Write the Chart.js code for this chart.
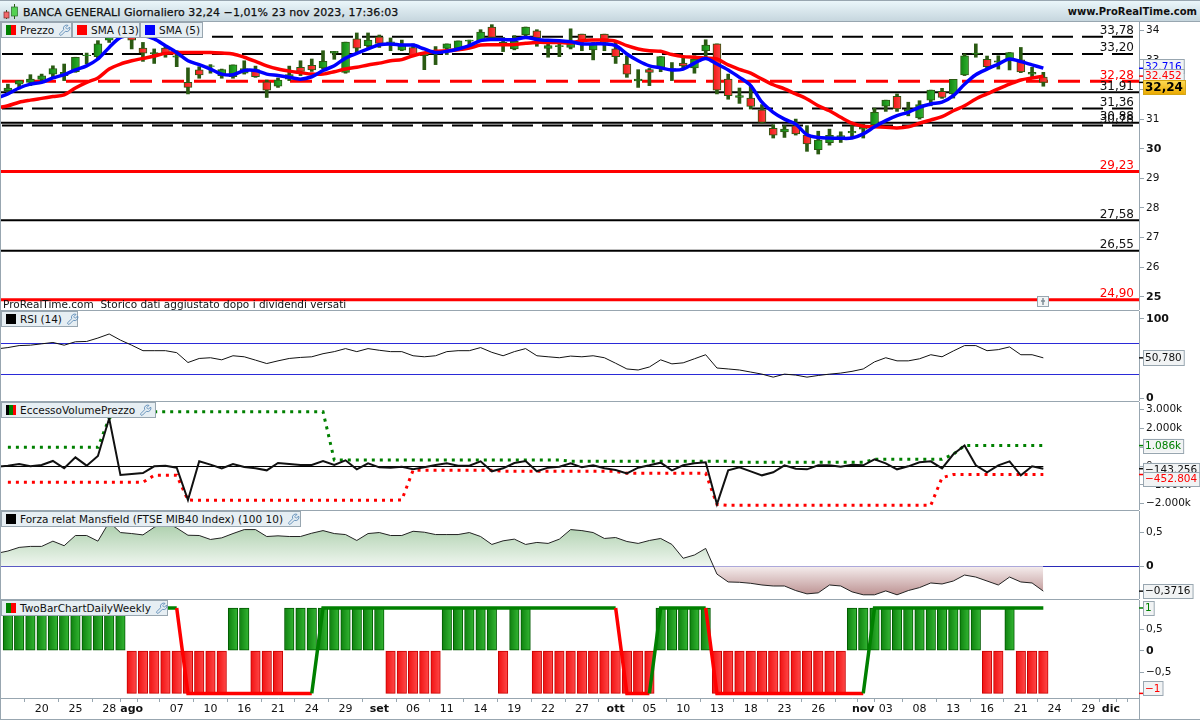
<!DOCTYPE html>
<html>
<head>
<meta charset="utf-8">
<title>BANCA GENERALI</title>
<script src="https://cdn.jsdelivr.net/npm/chart.js@4/dist/chart.umd.min.js"></script>
<style>
  html, body { margin: 0; padding: 0; background: #fff; }
  body { position: relative; width: 1200px; height: 720px; overflow: hidden; font: 11px "DejaVu Sans", sans-serif; color: #111; }
  canvas { position: absolute; left: -11px; }
  .top { position: absolute; left: 0; top: 0; width: 1200px; height: 21px; background: linear-gradient(#eaf6fa, #c6d6de); border-top: 1px solid #98a6b0; box-sizing: border-box; }
  .title { position: absolute; left: 23px; top: 5px; font-size: 11px; letter-spacing: 0.05px; white-space: nowrap; -webkit-text-stroke: 0.25px #111; }
  .site { position: absolute; right: 3px; top: 5px; font-size: 10px; font-weight: bold; white-space: nowrap; }
  .rule { position: absolute; background: #98a6b0; }
  .tab { position: absolute; height: 16px; box-sizing: border-box; background: #e6eef3; border: 1px solid #98a6b0; display: flex; align-items: center; padding-left: 4px; gap: 4px; white-space: nowrap; font-size: 10.5px; }
  .tab svg { flex: none; }
  .sw { display: inline-flex; width: 10px; height: 10px; flex: none; }
  .sw i { flex: 1; }
  .note { position: absolute; left: 3px; top: 298px; font-size: 10.5px; white-space: nowrap; }
  .mark { position: absolute; left: 1037px; top: 296px; width: 12px; height: 11px; box-sizing: border-box; border: 1px solid #98a6b0; background: #f2f4f5; }
</style>
</head>
<body>
<script>
// bar 0 is the one cut by the left edge, the rest are daily sessions up to 23 nov plus empty days
const BAR_COUNT = 102;
const bars = Array.from({ length: BAR_COUNT }, (_, i) => i - 1);

const tickBars = [0, 3, 6, 9, 11, 12, 15, 18, 21, 24, 27, 30, 33, 36, 39, 42, 45, 48, 51, 54, 57, 60, 63, 66, 69, 72, 75, 76, 78, 81, 84, 87, 90, 93, 96, 98, 99];
const tickTexts = ['', '20', '25', '28', 'ago', '', '07', '10', '16', '21', '24', '29', 'set', '06', '11', '14', '19', '22', '27', 'ott', '05', '10', '13', '18', '23', '26', '', 'nov', '03', '08', '13', '16', '21', '24', '29', 'dic', ''];
const monthTexts = ['ago', 'set', 'ott', 'nov', 'dic'];

const opens = [null, 31.96, 32.18, 32.24, 32.34, 32.52, 32.47, 32.60, 33.14, 33.11, 33.67, 33.99, 33.99, 33.40, 33.20, 33.40, 33.09, 32.24, 32.66, 32.78, 32.47, 32.43, 32.55, 32.67, 32.26, 32.11, 32.35, 32.75, 32.82, 32.73, 33.23, 32.58, 33.71, 33.48, 33.78, 33.58, 33.33, 33.42, 33.14, 33.25, 33.39, 33.40, 33.63, 33.65, 34.11, 33.59, 33.37, 33.85, 33.98, 33.39, 33.45, 33.42, 33.87, 33.34, 33.87, 33.37, 32.86, 32.29, 32.67, 32.75, 32.67, 32.89, 32.73, 33.31, 33.54, 32.35, 31.73, 31.71, 31.31, 30.69, 30.57, 30.78, 30.46, 29.97, 30.20, 30.38, 30.53, 30.66, 30.81, 31.44, 31.77, 31.26, 31.04, 31.64, 31.94, 31.85, 32.49, 33.20, 33.02, 32.92, 33.03, 33.00, 32.52, 32.42];
const closes = [null, 32.05, 32.30, 32.35, 32.46, 32.71, 32.58, 33.09, 33.16, 33.54, 33.99, 34.32, 33.67, 33.23, 33.25, 33.23, 33.14, 32.07, 32.49, 32.80, 32.67, 32.83, 32.71, 32.43, 31.98, 32.32, 32.50, 32.61, 32.66, 32.95, 33.29, 33.60, 33.40, 33.67, 33.56, 33.61, 33.48, 33.14, 33.25, 33.31, 33.54, 33.64, 33.67, 33.94, 33.76, 33.48, 33.63, 34.11, 33.74, 33.48, 33.48, 33.59, 33.63, 33.54, 33.59, 33.11, 32.52, 32.35, 32.58, 33.11, 32.71, 32.80, 33.03, 33.50, 31.98, 31.79, 31.79, 31.43, 30.89, 30.46, 30.66, 30.50, 30.16, 30.29, 30.45, 30.44, 30.59, 30.72, 31.23, 31.64, 31.34, 31.34, 31.49, 31.98, 31.73, 32.34, 33.14, 33.23, 32.77, 32.97, 33.25, 32.59, 32.58, 32.24];
const highs = [null, 32.18, 32.30, 32.50, 32.52, 32.80, 32.86, 33.09, 33.23, 33.65, 34.16, 34.40, 34.15, 33.59, 33.37, 33.48, 33.31, 32.73, 32.77, 32.84, 32.69, 32.83, 32.97, 32.79, 32.32, 32.39, 32.79, 32.97, 33.03, 33.31, 33.29, 33.60, 33.91, 33.91, 33.84, 33.74, 33.67, 33.54, 33.25, 33.45, 33.54, 33.64, 33.67, 34.02, 34.19, 33.76, 33.82, 34.11, 34.02, 33.67, 33.63, 34.05, 33.87, 33.59, 33.87, 33.65, 33.14, 32.67, 32.71, 33.11, 32.91, 33.06, 33.14, 33.68, 33.54, 32.52, 32.05, 32.13, 31.49, 30.81, 30.78, 31.00, 30.78, 30.59, 30.66, 30.57, 30.78, 30.83, 31.37, 31.64, 31.85, 31.57, 31.62, 31.98, 32.04, 32.34, 33.20, 33.54, 33.13, 33.14, 33.25, 33.42, 32.75, 32.58];
const lows = [null, 31.85, 32.02, 32.13, 32.24, 32.41, 32.30, 32.58, 32.86, 33.03, 33.59, 33.90, 33.37, 32.95, 32.88, 33.09, 32.77, 31.85, 32.38, 32.55, 32.38, 32.38, 32.52, 32.41, 31.73, 32.07, 32.30, 32.47, 32.61, 32.69, 33.02, 32.55, 33.25, 33.42, 33.42, 33.31, 33.31, 33.11, 32.67, 32.84, 33.18, 33.31, 33.42, 33.63, 33.65, 33.28, 33.34, 33.76, 33.46, 33.09, 33.11, 33.37, 33.31, 33.00, 33.31, 32.88, 32.41, 32.07, 32.13, 32.60, 32.30, 32.69, 32.55, 33.09, 31.85, 31.67, 31.53, 31.34, 30.86, 30.36, 30.38, 30.46, 29.91, 29.82, 30.12, 30.21, 30.36, 30.36, 30.72, 31.26, 31.26, 31.11, 31.00, 31.45, 31.70, 31.71, 32.47, 33.09, 32.69, 32.69, 32.66, 32.57, 32.43, 32.11];
const sma5 = [31.71, 31.85, 32.05, 32.18, 32.24, 32.39, 32.50, 32.66, 32.80, 33.03, 33.42, 33.76, 33.82, 33.82, 33.71, 33.48, 33.25, 32.97, 32.84, 32.69, 32.52, 32.50, 32.64, 32.64, 32.52, 32.47, 32.41, 32.35, 32.43, 32.64, 32.80, 33.06, 33.22, 33.37, 33.51, 33.54, 33.50, 33.50, 33.37, 33.25, 33.29, 33.37, 33.48, 33.65, 33.69, 33.69, 33.68, 33.76, 33.69, 33.66, 33.65, 33.61, 33.54, 33.54, 33.54, 33.48, 33.20, 32.97, 32.80, 32.73, 32.66, 32.69, 32.89, 33.05, 32.86, 32.66, 32.41, 32.13, 31.57, 31.23, 31.00, 30.83, 30.47, 30.38, 30.36, 30.35, 30.36, 30.50, 30.74, 30.95, 31.12, 31.23, 31.40, 31.51, 31.57, 31.79, 32.18, 32.50, 32.69, 32.86, 33.03, 32.94, 32.83, 32.72];
const sma13 = [31.38, 31.45, 31.57, 31.64, 31.70, 31.76, 31.82, 32.05, 32.24, 32.39, 32.69, 32.86, 32.97, 33.05, 33.13, 33.22, 33.25, 33.25, 33.25, 33.25, 33.23, 33.20, 33.09, 32.95, 32.80, 32.69, 32.62, 32.57, 32.52, 32.52, 32.60, 32.69, 32.75, 32.83, 32.89, 32.97, 33.01, 33.14, 33.23, 33.29, 33.31, 33.34, 33.40, 33.50, 33.51, 33.51, 33.52, 33.56, 33.59, 33.59, 33.59, 33.57, 33.65, 33.67, 33.67, 33.63, 33.48, 33.37, 33.31, 33.29, 33.18, 33.11, 33.09, 33.06, 33.03, 32.83, 32.68, 32.55, 32.35, 32.16, 32.02, 31.85, 31.68, 31.45, 31.28, 31.06, 30.86, 30.76, 30.74, 30.72, 30.70, 30.74, 30.86, 30.97, 31.08, 31.28, 31.45, 31.68, 31.85, 32.02, 32.18, 32.32, 32.39, 32.45];

const levelValues = [33.78, 33.20, 32.28, 31.91, 31.36, 30.88, 30.78, 29.23, 27.58, 26.55, 24.90];
const levelTexts = ['33,78', '33,20', '32,28', '31,91', '31,36', '30,88', '30,78', '29,23', '27,58', '26,55', '24,90'];
const priceTicks = [34, 33, 32, 31, 30, 29, 28, 27, 26, 25];

const rsi = [62.0, 63.7, 66.2, 66.7, 68.4, 70.1, 66.7, 71.0, 71.4, 75.7, 80.8, 73.1, 66.7, 59.8, 59.8, 59.8, 57.3, 44.9, 50.0, 50.9, 48.3, 53.4, 52.1, 47.9, 43.6, 47.0, 50.0, 51.3, 52.1, 56.0, 58.6, 62.4, 58.6, 62.4, 60.3, 58.6, 58.6, 53.4, 52.1, 53.4, 58.6, 59.8, 59.8, 63.7, 57.7, 53.4, 58.6, 62.4, 53.4, 52.1, 50.9, 53.0, 52.1, 53.4, 50.9, 44.0, 36.8, 35.5, 39.3, 48.3, 43.2, 44.5, 49.6, 54.7, 38.0, 36.8, 35.5, 32.9, 30.3, 26.5, 30.3, 29.1, 26.5, 28.6, 30.3, 31.6, 33.8, 36.8, 45.7, 50.9, 47.0, 47.0, 49.6, 54.7, 52.1, 59.4, 66.2, 66.2, 59.8, 61.1, 64.5, 54.7, 54.7, 50.78];
const rsiTicks = [100, 0];
const rsiLevels = [70, 30];

const evp = [-35, 18, 107, -17, 54, 267, -124, 461, 18, 533, 2536, -478, -425, -372, -17, 18, -88, -1808, 249, 72, -124, 107, -53, -124, -230, 160, 107, 54, 54, 267, 54, 302, -177, 143, -70, -88, -35, -177, -70, 54, 143, 18, 18, 249, -283, -124, 160, 267, -283, -88, -35, 143, -70, 36, -124, -212, -390, -88, 36, 178, -230, 36, 143, 196, -2038, -230, -70, -283, -496, -336, 36, -141, -177, 36, 36, -35, 72, 36, 355, 143, -177, -17, 196, 249, -124, 621, 1086, 36, -336, 36, 249, -496, -17, -143];
const evpUpper = [null, 993, 993, 993, 993, 993, 993, 993, 993, 993, 2536, 2891, 2891, 2891, 2891, 2891, 2891, 2891, 2891, 2891, 2891, 2891, 2891, 2891, 2891, 2891, 2891, 2891, 2891, 2891, 320, 320, 320, 320, 320, 320, 320, 320, 320, 320, 320, 320, 320, 320, 320, 320, 320, 320, 320, 320, 320, 249, 249, 249, 249, 249, 249, 249, 249, 249, 249, 249, 249, 249, 249, 249, 196, 196, 196, 196, 196, 196, 196, 196, 196, 196, 196, 196, 355, 355, 355, 355, 355, 355, 355, 621, 1086, 1086, 1086, 1086, 1086, 1086, 1086, 1086];
const evpLower = [null, -868, -868, -868, -868, -868, -868, -868, -868, -868, -868, -868, -868, -868, -496, -496, -496, -1808, -1826, -1826, -1826, -1826, -1826, -1826, -1826, -1826, -1826, -1826, -1826, -1826, -1826, -1826, -1826, -1826, -1826, -1826, -1808, -230, -230, -230, -230, -230, -230, -230, -230, -283, -283, -283, -283, -283, -283, -283, -283, -283, -283, -283, -390, -390, -390, -390, -390, -390, -390, -390, -2038, -2091, -2091, -2091, -2091, -2091, -2091, -2091, -2091, -2091, -2091, -2091, -2091, -2091, -2091, -2091, -2091, -2091, -2091, -2091, -620, -453, -453, -453, -453, -453, -453, -453, -453, -453];
const evpTicks = [3000, 2000, 1000, 0, -1000, -2000];
const evpTickTexts = ['3.000k', '2.000k', '1.000k', '0', '−1.000k', '−2.000k'];

const mansfield = [0.19, 0.225, 0.279, 0.294, 0.294, 0.372, 0.304, 0.456, 0.456, 0.372, 0.656, 0.500, 0.485, 0.465, 0.578, 0.656, 0.568, 0.460, 0.456, 0.397, 0.421, 0.485, 0.544, 0.544, 0.441, 0.451, 0.441, 0.441, 0.490, 0.529, 0.485, 0.470, 0.382, 0.485, 0.500, 0.456, 0.456, 0.519, 0.505, 0.470, 0.470, 0.470, 0.500, 0.441, 0.323, 0.377, 0.402, 0.323, 0.353, 0.338, 0.402, 0.544, 0.529, 0.500, 0.412, 0.426, 0.367, 0.338, 0.382, 0.412, 0.323, 0.117, 0.166, 0.264, -0.118, -0.235, -0.240, -0.255, -0.280, -0.295, -0.295, -0.363, -0.412, -0.397, -0.280, -0.295, -0.382, -0.426, -0.426, -0.368, -0.426, -0.363, -0.319, -0.250, -0.265, -0.221, -0.132, -0.162, -0.221, -0.280, -0.162, -0.235, -0.250, -0.3716];
const mansfieldTicks = [0.5, 0];

const twoBar = [null, 1, 1, 1, 1, 1, 1, 1, 1, 1, 1, 1, -1, -1, -1, -1, -1, -1, -1, -1, -1, 1, 1, -1, -1, -1, 1, 1, 1, 1, 1, 1, 1, 1, 1, -1, -1, -1, -1, -1, 1, 1, 1, 1, 1, -1, 1, 1, -1, -1, -1, -1, -1, -1, -1, -1, -1, -1, -1, 1, 1, 1, 1, 1, -1, -1, -1, -1, -1, -1, -1, -1, -1, -1, -1, -1, 1, 1, 1, 1, 1, 1, 1, 1, 1, 1, 1, 1, -1, -1, 1, -1, -1, -1];
const twoBarLine = [1, 1, 1, 1, 1, 1, 1, 1, 1, 1, 1, 1, 1, 1, 1, 1, 1, -1, -1, -1, -1, -1, -1, -1, -1, -1, -1, -1, -1, 1, 1, 1, 1, 1, 1, 1, 1, 1, 1, 1, 1, 1, 1, 1, 1, 1, 1, 1, 1, 1, 1, 1, 1, 1, 1, 1, -1, -1, -1, 1, 1, 1, 1, 1, -1, -1, -1, -1, -1, -1, -1, -1, -1, -1, -1, -1, -1, -1, 1, 1, 1, 1, 1, 1, 1, 1, 1, 1, 1, 1, 1, 1, 1, 1];
const twoBarTicks = [0.5, 0, -0.5];

const FONT = '"DejaVu Sans", sans-serif';
const AXIS = '#98a6b0';
const GREEN = '#008000';
const RED = '#ff0000';
const WICK = '#2a5a12';

const comma = v => String(v).replace('.', ',').replace('-', '−');

// horizontal levels, drawn under the marks
function levelLines(lines) {
  return {
    id: 'levelLines',
    beforeDatasetsDraw(chart) {
      const { ctx, chartArea, scales } = chart;
      lines.forEach(l => {
        let y = scales.y.getPixelForValue(l.value);
        if (l.width === 1) y = Math.round(y) + 0.5;   // keep hairlines crisp
        ctx.save();
        ctx.strokeStyle = l.color;
        ctx.lineWidth = l.width;
        ctx.setLineDash(l.dash || []);
        ctx.beginPath();
        ctx.moveTo(l.dash ? 13 : chartArea.left, y);
        ctx.lineTo(l.toBar != null ? scales.x.getPixelForValue(l.toBar + 1) : chartArea.right, y);
        ctx.stroke();
        ctx.restore();
      });
    },
  };
}

// value written above each level, right aligned on the axis
function levelLabels(values, texts, isRed) {
  return {
    id: 'levelLabels',
    afterDatasetsDraw(chart) {
      const { ctx, scales } = chart;
      ctx.save();
      ctx.font = '12px ' + FONT;
      ctx.textAlign = 'right';
      ctx.textBaseline = 'alphabetic';
      values.forEach((v, i) => {
        ctx.fillStyle = isRed(v) ? RED : '#111';
        ctx.fillText(texts[i], 1145, scales.y.getPixelForValue(v) - 2.5);
      });
      ctx.restore();
    },
  };
}

// last value boxes on the axis
function valueTags(tags) {
  return {
    id: 'valueTags',
    afterDraw(chart) {
      const { ctx, scales, chartArea } = chart;
      tags.forEach(t => {
        const y = scales.y.getPixelForValue(t.value);
        const mid = y + (t.shift || 0);
        const h = t.height || 14;
        const left = chartArea.right + 4;
        ctx.save();
        ctx.strokeStyle = t.color;
        ctx.lineWidth = 1.5;
        ctx.beginPath();
        ctx.moveTo(chartArea.right, y);
        ctx.lineTo(left, y);
        ctx.stroke();
        ctx.font = (t.bold ? 'bold 12px ' : '10.5px ') + FONT;
        const w = ctx.measureText(t.text).width + 4;
        if (t.gold) {
          const g = ctx.createLinearGradient(0, mid - h / 2, 0, mid + h / 2);
          g.addColorStop(0, '#ffdc55');
          g.addColorStop(1, '#eaa900');
          ctx.fillStyle = g;
        } else {
          ctx.fillStyle = '#f1f3f4';
        }
        ctx.fillRect(left, mid - h / 2, w, h);
        ctx.strokeStyle = t.gold ? '#d4a514' : AXIS;
        ctx.lineWidth = 1;
        ctx.strokeRect(left + 0.5, Math.round(mid - h / 2) + 0.5, w, h);
        ctx.fillStyle = t.color;
        ctx.textAlign = 'left';
        ctx.textBaseline = 'middle';
        ctx.fillText(t.text, left + 2, mid + 0.5);
        ctx.restore();
      });
    },
  };
}

function barFill(ctx, isUp) {
  // options are also resolved before the x scale has its pixels
  const x = ctx.chart.scales.x.getPixelForValue(ctx.dataIndex);
  if (!Number.isFinite(x)) return isUp ? GREEN : RED;
  const g = ctx.chart.ctx.createLinearGradient(x - 5, 0, x + 5, 0);
  g.addColorStop(0, isUp ? '#0d7f0d' : '#f01010');
  g.addColorStop(1, isUp ? '#35b835' : '#ff4a4a');
  return g;
}

function yAxis(min, max, ticks, texts, boldValues) {
  return {
    position: 'right',
    min,
    max,
    afterFit(scale) {
      scale.width = 61;
      // keep the plot on the full canvas height, tick labels may overhang
      scale.paddingTop = 0;
      scale.paddingBottom = 0;
    },
    afterBuildTicks(scale) { scale.ticks = ticks.map(value => ({ value })); },
    border: { color: AXIS },
    grid: { drawOnChartArea: false, tickLength: 5, tickColor: AXIS },
    ticks: {
      color: '#111',
      padding: 2,
      autoSkip: false,
      callback: (v, i) => (texts ? texts[i] : comma(v)),
      font: ctx => {
        const bold = ctx.tick && boldValues.includes(ctx.tick.value);
        return { family: FONT, size: bold ? 11 : 10.5, weight: bold ? 'bold' : 'normal' };
      },
    },
  };
}

function panel(top, height, datasets, y, plugins, xAxis) {
  const canvas = document.createElement('canvas');
  canvas.width = 1211;
  canvas.height = height;
  canvas.style.top = top + 'px';
  document.body.appendChild(canvas);
  return new Chart(canvas, {
    data: { labels: bars, datasets },
    options: {
      responsive: false,
      animation: false,
      devicePixelRatio: 1,
      layout: { padding: { left: 2 } },
      plugins: { legend: { display: false }, tooltip: { enabled: false } },
      scales: { x: xAxis || { display: false, offset: true }, y },
    },
    plugins: plugins || [],
  });
}

const line = (data, color, width, extra) => ({
  type: 'line', data, borderColor: color, borderWidth: width,
  pointRadius: 0, spanGaps: false, order: 0, ...extra,
});

// ---- Price panel
panel(22, 288, [
  line(sma13, RED, 3.5, { tension: 0.3, order: 1 }),
  line(sma5, '#0000ff', 3.5, { tension: 0.3, order: 0 }),
  {
    type: 'bar', grouped: false, order: 2, barThickness: 8, borderWidth: 1, borderColor: WICK, borderSkipped: false,
    data: opens.map((o, i) => (o === null ? null : [o, closes[i]])),
    backgroundColor: ctx => (ctx.raw ? barFill(ctx, ctx.raw[1] >= ctx.raw[0]) : RED),
  },
  {
    type: 'bar', grouped: false, order: 3, barThickness: 3, backgroundColor: WICK,
    data: lows.map((l, i) => (l === null ? null : [l, highs[i]])),
  },
], yAxis(24.55, 34.28, priceTicks, null, [30, 25]), [
  levelLines([
    { value: 33.78, color: '#000', width: 2, dash: [21, 9] },
    { value: 33.20, color: '#000', width: 2, dash: [21, 9] },
    { value: 32.28, color: RED, width: 3, dash: [22, 10] },
    { value: 31.91, color: '#000', width: 2 },
    { value: 31.36, color: '#000', width: 2, dash: [21, 9] },
    { value: 30.88, color: '#000', width: 2 },
    { value: 30.78, color: '#000', width: 2, dash: [21, 9] },
    { value: 29.23, color: RED, width: 3 },
    { value: 27.58, color: '#000', width: 2 },
    { value: 26.55, color: '#000', width: 2 },
    { value: 24.90, color: RED, width: 3 },
  ]),
  levelLabels(levelValues, levelTexts, v => [32.28, 29.23, 24.90].includes(v)),
  valueTags([
    { value: 32.716, text: '32.716', color: '#0000ff', shift: -2 },
    { value: 32.452, text: '32.452', color: RED },
    { value: 32.24, text: '32,24', color: '#000', bold: true, gold: true, shift: 5 },
  ]),
]);

// ---- RSI
panel(311, 90, [line(rsi, '#111', 1)], yAxis(-3.5, 109.7, rsiTicks, null, [100, 0]), [
  levelLines(rsiLevels.map(value => ({ value, color: '#2a2ad8', width: 1 }))),
  valueTags([{ value: 50.78, text: '50,780', color: '#111', height: 15 }]),
]);

// ---- Eccesso volume prezzo
panel(402, 108, [
  line(evp, '#111', 2, { order: 0 }),
  line(evpUpper, GREEN, 3, { borderDash: [3, 5], order: 1 }),
  line(evpLower, RED, 3, { borderDash: [3, 5], order: 1 }),
], yAxis(-2340, 3404, evpTicks, evpTickTexts, []), [
  levelLines([{ value: 0, color: '#000', width: 1, toBar: 92 }]),
  valueTags([
    { value: 1086, text: '1.086k', color: GREEN },
    { value: -143.256, text: '−143.256', color: '#111', shift: 1 },
    { value: -452.804, text: '−452.804', color: RED, shift: 4.5 },
  ]),
]);

// ---- Mansfield
const mansfieldChart = panel(511, 88, [
  line(mansfield, '#222', 1, { fill: { target: { value: 0 }, above: '#cfe3cf', below: '#dcc4c4' }, order: 0 }),
], yAxis(-0.481, 0.813, mansfieldTicks, null, [0]), [
  levelLines([{ value: 0, color: '#2a2ab8', width: 1 }]),
  valueTags([{ value: -0.3716, text: '−0,3716', color: '#111' }]),
]);
{
  const y = mansfieldChart.scales.y;
  const c = mansfieldChart.ctx;
  const up = c.createLinearGradient(0, y.getPixelForValue(0.56), 0, y.getPixelForValue(0));
  up.addColorStop(0, '#b3d3b3');
  up.addColorStop(1, '#eff6ef');
  const down = c.createLinearGradient(0, y.getPixelForValue(0), 0, y.getPixelForValue(-0.42));
  down.addColorStop(0, '#f5eded');
  down.addColorStop(1, '#bd9393');
  mansfieldChart.data.datasets[0].fill = { target: { value: 0 }, above: up, below: down };
  mansfieldChart.update();
}

// ---- TwoBarChartDailyWeekly with the date axis below it
panel(600, 119, [
  line(twoBarLine, GREEN, 3.5, {
    order: 0,
    segment: { borderColor: ctx => (ctx.p1.parsed.y > 0 ? GREEN : RED) },
  }),
  {
    type: 'bar', order: 1, barThickness: 9.5, borderWidth: 1, borderSkipped: false, data: twoBar,
    backgroundColor: ctx => barFill(ctx, ctx.raw > 0),
    borderColor: ctx => (ctx.raw > 0 ? '#005a00' : '#c80000'),
  },
], yAxis(-1.108, 1.187, twoBarTicks, null, [0]), [
  valueTags([
    { value: 1, text: '1', color: GREEN },
    { value: -1, text: '−1', color: RED, shift: -5 },
  ]),
], {
  offset: true,
  afterFit(scale) {
    scale.height = 21;
    scale.paddingLeft = 0;
    scale.paddingRight = 0;
  },
  afterBuildTicks(scale) { scale.ticks = tickBars.map(b => ({ value: b + 1 })); },
  border: { color: AXIS },
  grid: { drawOnChartArea: false, tickLength: 4, tickColor: AXIS },
  ticks: {
    autoSkip: false,
    maxRotation: 0,
    padding: 1,
    color: '#111',
    callback: (v, i) => tickTexts[i],
    font: ctx => ({ family: FONT, size: 11, weight: monthTexts.includes(tickTexts[ctx.index]) ? 'bold' : 'normal' }),
  },
});

// ---- Window furniture: title bar, panel rules, tabs
const WRENCH = '<svg width="13" height="13" viewBox="0 0 24 24"><path d="M14.7 6.3a1 1 0 000 1.4l1.6 1.6a1 1 0 001.4 0l3.77-3.77a6 6 0 01-7.94 7.94l-6.91 6.91a2.12 2.12 0 01-3-3l6.91-6.91a6 6 0 017.94-7.94l-3.76 3.76z" fill="none" stroke="#5f8db8" stroke-width="1.7"/></svg>';
const swatch = colors => '<span class="sw">' + colors.map(c => '<i style="background:' + c + '"></i>').join('') + '</span>';

function addHtml(html) {
  document.body.insertAdjacentHTML('beforeend', html);
}

addHtml('<div class="top"><svg style="position:absolute;left:3px;top:3px" width="16" height="16" viewBox="0 0 16 16">'
  + '<path d="M3.5 6V15M11.5 0V15" stroke="#2a5a12"/><rect x="1" y="8" width="5" height="6" fill="#f26a6a" stroke="#7a2a2a" stroke-width=".7"/>'
  + '<rect x="8.5" y="3" width="6" height="9" fill="#53d153" stroke="#2a6a2a" stroke-width=".7"/></svg>'
  + '<div class="title">BANCA GENERALI Giornaliero 32,24 −1,01% 23 nov 2023, 17:36:03</div>'
  + '<div class="site">www.ProRealTime.com</div></div>');

[[21, 1200], [310, 1139], [401, 1139], [510, 1139], [599, 1139], [719, 1200]].forEach(([top, width]) => {
  addHtml('<div class="rule" style="left:0;top:' + top + 'px;width:' + width + 'px;height:1px"></div>');
});
addHtml('<div class="rule" style="left:0;top:21px;width:1px;height:698px"></div>');
addHtml('<div class="rule" style="left:1139px;top:698px;width:1px;height:21px"></div>');

addHtml('<div class="note">ProRealTime.com&nbsp; Storico dati aggiustato dopo i dividendi versati</div>');
addHtml('<div class="mark"><svg width="10" height="9" style="display:block"><path d="M5 1V8M3 4H7" stroke="#7d8a94" stroke-width="1.4"/></svg></div>');

[
  [1, 22, 71, swatch([GREEN, RED]) + 'Prezzo' + WRENCH],
  [72, 22, 68, swatch([RED]) + 'SMA (13)'],
  [140, 22, 63, swatch(['#0000ff']) + 'SMA (5)'],
  [1, 311, 77, swatch(['#000']) + 'RSI (14)' + WRENCH],
  [1, 402, 155, swatch(['#000', GREEN, RED]) + 'EccessoVolumePrezzo' + WRENCH],
  [1, 511, 300, swatch(['#000']) + 'Forza relat Mansfield (FTSE MIB40 Index) (100 10)' + WRENCH],
  [1, 600, 167, swatch([GREEN, RED]) + 'TwoBarChartDailyWeekly' + WRENCH],
].forEach(([left, top, width, inner]) => {
  addHtml('<div class="tab" style="left:' + left + 'px;top:' + top + 'px;width:' + width + 'px">' + inner + '</div>');
});
</script>
</body>
</html>
